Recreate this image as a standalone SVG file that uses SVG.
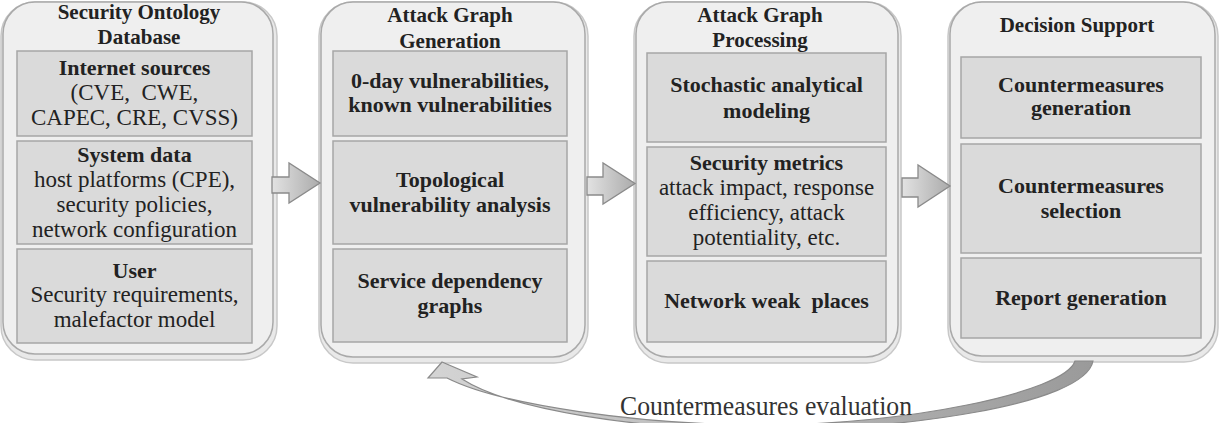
<svg xmlns="http://www.w3.org/2000/svg" width="1225" height="423" viewBox="0 0 1225 423">
<defs>
<style>
.shadow{fill:#e9e9e9;stroke:#c8c8c8;stroke-width:1.5}
.cont{fill:#efefef;stroke:#a9a9a9;stroke-width:1.5}
.box{fill:#dadada;stroke:#a6a6a6;stroke-width:1.5}
text{font-family:"Liberation Serif","Times New Roman",serif;fill:#222;text-anchor:middle;white-space:pre}
.t{font-size:21px;font-weight:bold}
.h{font-size:22px;font-weight:bold}
.r{font-size:23px}
.lbl{font-size:27px;fill:#333}
.blk{fill:url(#ag);stroke:#8a8a8a;stroke-width:1.3}
.fb{fill:url(#fg);stroke:#8a8a8a;stroke-width:1.2}
</style>
<linearGradient id="ag" x1="0" y1="0" x2="1" y2="0">
<stop offset="0" stop-color="#e2e2e2"/>
<stop offset="1" stop-color="#ababab"/>
</linearGradient>
<linearGradient id="fg" x1="0" y1="0" x2="1" y2="0">
<stop offset="0" stop-color="#d4d4d4"/>
<stop offset="0.5" stop-color="#b8b8b8"/>
<stop offset="1" stop-color="#9a9a9a"/>
</linearGradient>
</defs>
<rect width="1225" height="423" fill="#fff"/>

<g id="security-ontology-database">
<rect class="shadow" x="1" y="2" width="276" height="358" rx="34"/>
<rect class="cont" x="3" y="2" width="270" height="352" rx="32"/>
<text class="t" x="139" y="19">Security Ontology</text>
<text class="t" x="139" y="44">Database</text>
<g id="internet-sources">
<rect class="box" x="17" y="51" width="235" height="85"/>
<text class="h" x="134.5" y="75">Internet sources</text>
<text class="r" x="134.5" y="100" xml:space="preserve">(CVE,  CWE,</text>
<text class="r" x="134.5" y="125">CAPEC, CRE, CVSS)</text>
</g>
<g id="system-data">
<rect class="box" x="17" y="141" width="235" height="103"/>
<text class="h" x="134.5" y="162">System data</text>
<text class="r" x="134.5" y="187">host platforms (CPE),</text>
<text class="r" x="134.5" y="212">security policies,</text>
<text class="r" x="134.5" y="237">network configuration</text>
</g>
<g id="user">
<rect class="box" x="17" y="249" width="235" height="94"/>
<text class="h" x="134.5" y="278">User</text>
<text class="r" x="134.5" y="302">Security requirements,</text>
<text class="r" x="134.5" y="327">malefactor model</text>
</g>
</g>

<g id="attack-graph-generation">
<rect class="shadow" x="319" y="2" width="269" height="361" rx="34"/>
<rect class="cont" x="321" y="2" width="264" height="355" rx="32"/>
<text class="t" x="450" y="22">Attack Graph</text>
<text class="t" x="450" y="48">Generation</text>
<g id="vulnerabilities">
<rect class="box" x="333" y="51" width="234" height="85"/>
<text class="h" x="450" y="88">0-day vulnerabilities,</text>
<text class="h" x="450" y="112">known vulnerabilities</text>
</g>
<g id="topological-analysis">
<rect class="box" x="333" y="141" width="234" height="103"/>
<text class="h" x="450" y="187">Topological</text>
<text class="h" x="450" y="212">vulnerability analysis</text>
</g>
<g id="service-dependency">
<rect class="box" x="333" y="249" width="234" height="93"/>
<text class="h" x="450" y="288">Service dependency</text>
<text class="h" x="450" y="313">graphs</text>
</g>
</g>

<g id="attack-graph-processing">
<rect class="shadow" x="634" y="2" width="267" height="361" rx="34"/>
<rect class="cont" x="636" y="2" width="262" height="355" rx="32"/>
<text class="t" x="760" y="22">Attack Graph</text>
<text class="t" x="760" y="47">Processing</text>
<g id="stochastic-modeling">
<rect class="box" x="647" y="53" width="239" height="89"/>
<text class="h" x="766.5" y="92">Stochastic analytical</text>
<text class="h" x="766.5" y="118">modeling</text>
</g>
<g id="security-metrics">
<rect class="box" x="647" y="147" width="239" height="109"/>
<text class="h" x="766.5" y="170">Security metrics</text>
<text class="r" x="766.5" y="195">attack impact, response</text>
<text class="r" x="766.5" y="220">efficiency, attack</text>
<text class="r" x="766.5" y="245">potentiality, etc.</text>
</g>
<g id="network-weak-places">
<rect class="box" x="647" y="261" width="239" height="81"/>
<text class="h" x="766.5" y="308" xml:space="preserve">Network weak  places</text>
</g>
</g>

<g id="decision-support">
<rect class="shadow" x="948" y="2" width="270" height="360" rx="34"/>
<rect class="cont" x="950" y="2" width="265" height="354" rx="32"/>
<text class="t" x="1077" y="32">Decision Support</text>
<g id="countermeasures-generation">
<rect class="box" x="961" y="57" width="240" height="81"/>
<text class="h" x="1081" y="92">Countermeasures</text>
<text class="h" x="1081" y="115">generation</text>
</g>
<g id="countermeasures-selection">
<rect class="box" x="961" y="144" width="240" height="109"/>
<text class="h" x="1081" y="193">Countermeasures</text>
<text class="h" x="1081" y="218">selection</text>
</g>
<g id="report-generation">
<rect class="box" x="961" y="258" width="240" height="80"/>
<text class="h" x="1081" y="305">Report generation</text>
</g>
</g>

<g id="connectors">
<path class="blk" d="M272 177 H289 V163 L320 183 L289 203 V193 H272 Z"/>
<path class="blk" d="M587 177 H603 V163 L635 183.5 L603 204 V195 H587 Z"/>
<path class="blk" d="M902 178 H918 V165 L950 186 L918 207 V197 H902 Z"/>
<path class="fb" d="M442 362 L477 377 L462 379 C510 410 640 430 766 430 C900 430 1085 405 1093 361 L1075 361 C1065 393 900 425 766 425 C640 425 500 405 447 378 L428 378 Z"/>
<text class="lbl" x="766" y="415" textLength="292" lengthAdjust="spacingAndGlyphs">Countermeasures evaluation</text>
</g>
</svg>
